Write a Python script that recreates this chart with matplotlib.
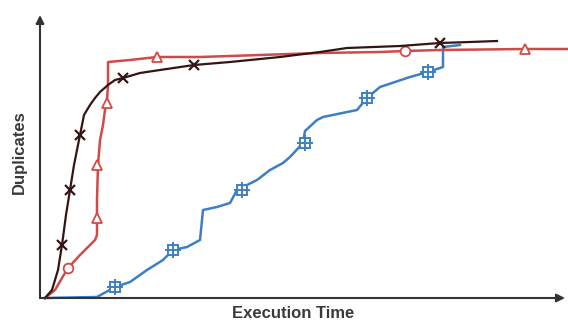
import matplotlib.pyplot as plt

# values (x = time units, y = duplicates units)
black_x = [5, 12, 18, 22, 26, 30, 34, 38, 40, 44, 50, 55, 60, 68, 75, 83, 100, 120, 154, 190, 240, 280, 307, 360, 400, 430, 457]
black_y = [0, 8, 28, 53, 83, 108, 133, 153, 163, 183, 193, 200, 206, 213, 218, 220, 225, 228, 233, 236, 241, 246, 250, 252, 255, 256, 257]
black_mx = [22, 30, 40, 83, 154, 400]
black_my = [53, 108, 163, 220, 233, 255]

red_x = [5, 15, 22, 28, 40, 55, 57, 57, 58, 60, 63, 65, 67, 68, 68, 90, 117, 160, 220, 280, 340, 365, 400, 485, 528]
red_y = [0, 8, 20, 30, 43, 58, 63, 98, 133, 158, 173, 188, 198, 213, 236, 238, 241, 241, 243, 245, 246, 247, 248, 249, 249]
red_tri_x = [57, 57, 67, 117, 485]
red_tri_y = [80, 133, 195, 241, 249]
red_circ_x = [28, 365]
red_circ_y = [30, 247]

blue_x = [5, 57, 75, 90, 107, 123, 133, 147, 160, 163, 177, 190, 197, 217, 230, 243, 250, 263, 265, 277, 283, 317, 327, 340, 370, 388, 403, 403, 420]
blue_y = [0, 1, 11, 16, 28, 38, 48, 51, 58, 88, 91, 95, 108, 118, 128, 135, 141, 155, 167, 178, 181, 188, 200, 211, 221, 226, 231, 251, 253]
blue_mx = [75, 133, 202, 265, 327, 388]
blue_my = [11, 48, 108, 155, 200, 226]

RED = '#d24a48'
BLACK = '#351414'
BLUE = '#3d7fc4'

fig = plt.figure(figsize=(5.68, 3.22), dpi=100)
ax = fig.add_axes([40 / 568, 24 / 322, 525 / 568, 283 / 322])
ax.set_xlim(0, 525)
ax.set_ylim(0, 283)
ax.axis('off')

ax.plot(blue_x, blue_y, color=BLUE, lw=1.8, clip_on=False)
ax.plot(blue_mx, blue_my, ls='none', marker='s', ms=7, mfc='white', mec=BLUE, mew=1.4)
ax.plot(blue_mx, blue_my, ls='none', marker='+', ms=11, mec=BLUE, mew=1.4)

ax.plot(red_x, red_y, color=RED, lw=1.8, clip_on=False)
ax.plot(red_tri_x, red_tri_y, ls='none', marker='^', ms=7, mfc='white', mec=RED, mew=1.3)
ax.plot(red_circ_x, red_circ_y, ls='none', marker='o', ms=7, mfc='white', mec=RED, mew=1.3)

ax.plot(black_x, black_y, color=BLACK, lw=1.6, clip_on=False)
ax.plot(black_mx, black_my, ls='none', marker='x', ms=7, mec=BLACK, mew=1.6)

# arrow axes
arrow = dict(arrowstyle='-|>', color='#333333', lw=1.5, mutation_scale=12, shrinkA=0, shrinkB=0)
ax.annotate('', xy=(1, 0), xytext=(0, 0), xycoords='axes fraction', arrowprops=arrow)
ax.annotate('', xy=(0, 1), xytext=(0, 0), xycoords='axes fraction', arrowprops=arrow)

fig.text(293 / 568, 1 - 313 / 322, 'Execution Time', ha='center', va='center',
         fontsize=12, fontweight='bold', color='#3a3a3a', fontfamily='Liberation Sans')
fig.text(19 / 568, 1 - 152 / 322, 'Duplicates', ha='center', va='center', rotation=90,
         fontsize=12, fontweight='bold', color='#3a3a3a', fontfamily='Liberation Sans')

fig.savefig('out.png', dpi=100)
